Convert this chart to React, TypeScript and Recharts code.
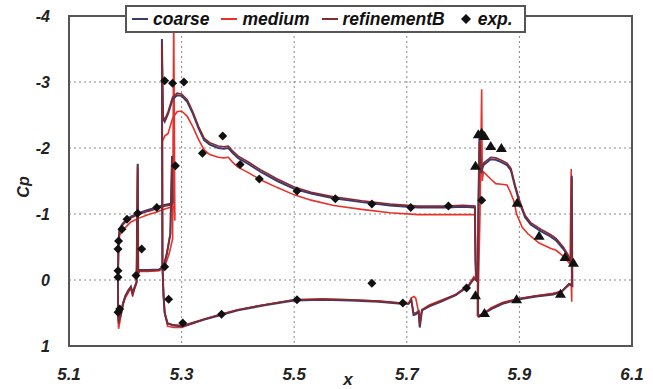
import {
  ComposedChart,
  Line,
  Scatter,
  XAxis,
  YAxis,
  CartesianGrid,
  ReferenceArea,
  Label,
} from 'recharts'

// [x, Cp] pairs
const coarseSlat = [
  [5.283, -1.16], [5.265, -1.13], [5.256, -1.1], [5.24, -1.06], [5.222, -1.01], [5.21, -0.96],
  [5.203, -0.92], [5.195, -0.85], [5.19, -0.78], [5.188, -0.6], [5.187, 0.0], [5.187, 0.45],
  [5.188, 0.62], [5.191, 0.55], [5.196, 0.35], [5.2, 0.24], [5.205, 0.16], [5.21, 0.1],
  [5.213, 0.2], [5.216, 0.12], [5.22, 0.03], [5.222, -1.76], [5.223, -0.1], [5.225, -0.15],
  [5.24, -0.15], [5.26, -0.16], [5.268, -0.2], [5.274, -0.4], [5.28, -0.7], [5.283, -1.88],
  [5.284, -1.16],
]
const coarseMain = [
  [5.266, -0.2], [5.265, -3.65], [5.267, -2.45], [5.27, -2.4], [5.276, -2.52], [5.284, -2.74],
  [5.292, -2.8], [5.3, -2.79], [5.31, -2.7], [5.32, -2.52], [5.33, -2.3], [5.34, -2.12],
  [5.35, -2.05], [5.365, -2.0], [5.375, -1.99], [5.383, -2.0], [5.39, -1.93], [5.4, -1.85],
  [5.42, -1.75], [5.44, -1.64], [5.47, -1.5], [5.5, -1.38], [5.53, -1.31], [5.57, -1.24],
  [5.62, -1.18], [5.67, -1.13], [5.72, -1.1], [5.77, -1.1], [5.8, -1.11], [5.821, -1.1],
  [5.822, -0.3], [5.823, 0.0], [5.819, -0.02], [5.81, 0.09], [5.787, 0.23], [5.76, 0.33],
  [5.74, 0.4], [5.727, 0.46], [5.723, 0.72], [5.721, 0.48], [5.716, 0.52], [5.712, 0.53],
  [5.708, 0.3], [5.703, 0.36], [5.69, 0.36], [5.65, 0.33], [5.6, 0.31], [5.55, 0.3],
  [5.5, 0.31], [5.45, 0.38], [5.4, 0.46], [5.37, 0.53], [5.34, 0.6], [5.31, 0.68],
  [5.3, 0.7], [5.285, 0.69], [5.275, 0.66], [5.27, 0.5], [5.268, 0.25], [5.266, -0.2],
]
const coarseFlap = [
  [5.826, 0.55], [5.826, 0.2], [5.827, -1.0], [5.829, -2.15], [5.832, -1.62], [5.836, -1.74],
  [5.849, -1.83], [5.858, -1.82], [5.867, -1.79], [5.878, -1.74], [5.885, -1.66], [5.892, -1.42],
  [5.9, -1.18], [5.91, -0.95], [5.92, -0.84], [5.938, -0.74], [5.955, -0.66], [5.965, -0.6],
  [5.978, -0.47], [5.986, -0.37], [5.992, -0.25], [5.993, -1.58], [5.994, 0.09], [5.988, 0.06],
  [5.975, 0.18], [5.96, 0.22], [5.93, 0.25], [5.9, 0.29], [5.87, 0.36], [5.85, 0.44],
  [5.838, 0.5], [5.826, 0.55],
]

const mediumSlat = [
  [5.287, -1.12], [5.265, -1.06], [5.256, -1.03], [5.24, -0.99], [5.222, -0.93], [5.21, -0.88],
  [5.203, -0.82], [5.195, -0.75], [5.19, -0.68], [5.188, -0.5], [5.187, 0.0], [5.187, 0.5],
  [5.188, 0.74], [5.191, 0.6], [5.196, 0.38], [5.2, 0.27], [5.205, 0.2], [5.21, 0.12],
  [5.213, 0.25], [5.216, 0.15], [5.22, 0.05], [5.222, -1.7], [5.223, -0.1], [5.225, -0.13],
  [5.24, -0.13], [5.26, -0.14], [5.27, -0.2], [5.278, -0.4], [5.284, -0.62], [5.286, -4.0],
  [5.288, -0.9], [5.287, -1.12],
]
const mediumMain = [
  [5.266, -0.2], [5.266, -2.1], [5.27, -2.18], [5.276, -2.22], [5.284, -2.45], [5.292, -2.55],
  [5.3, -2.56], [5.31, -2.48], [5.32, -2.32], [5.33, -2.13], [5.34, -1.97], [5.35, -1.9],
  [5.365, -1.86], [5.375, -1.85], [5.383, -1.86], [5.39, -1.79], [5.4, -1.71], [5.42, -1.62],
  [5.44, -1.52], [5.47, -1.4], [5.5, -1.29], [5.53, -1.21], [5.57, -1.13], [5.62, -1.07],
  [5.67, -1.02], [5.72, -0.99], [5.77, -0.99], [5.8, -0.99], [5.821, -0.99], [5.823, 0.0],
  [5.819, -0.05], [5.81, 0.07], [5.787, 0.22], [5.76, 0.31], [5.74, 0.38], [5.727, 0.45],
  [5.724, 0.6], [5.72, 0.45], [5.716, 0.28], [5.713, 0.25], [5.708, 0.27], [5.703, 0.36],
  [5.69, 0.35], [5.65, 0.32], [5.6, 0.3], [5.55, 0.29], [5.5, 0.3], [5.45, 0.37],
  [5.4, 0.45], [5.37, 0.52], [5.34, 0.6], [5.31, 0.69], [5.3, 0.72], [5.285, 0.72],
  [5.275, 0.7], [5.27, 0.5], [5.268, 0.25], [5.266, -0.2],
]
const mediumFlap = [
  [5.827, 0.57], [5.827, 0.2], [5.83, -1.0], [5.833, -2.89], [5.834, -1.5], [5.836, -1.64],
  [5.849, -1.53], [5.858, -1.46], [5.868, -1.45], [5.878, -1.44], [5.884, -1.33], [5.89, -1.2],
  [5.895, -1.0], [5.905, -0.8], [5.915, -0.7], [5.935, -0.56], [5.955, -0.48], [5.965, -0.45],
  [5.978, -0.36], [5.99, -0.24], [5.992, -1.68], [5.993, 0.33], [5.992, 0.05], [5.985, 0.1],
  [5.975, 0.17], [5.96, 0.2], [5.93, 0.24], [5.9, 0.28], [5.87, 0.34], [5.85, 0.42],
  [5.838, 0.5], [5.827, 0.57],
]

const refinementBSlat = [
  [5.283, -1.14], [5.265, -1.11], [5.256, -1.08], [5.24, -1.04], [5.222, -0.99], [5.21, -0.94],
  [5.203, -0.9], [5.195, -0.83], [5.19, -0.76], [5.188, -0.58], [5.187, 0.0], [5.187, 0.47],
  [5.188, 0.66], [5.191, 0.57], [5.196, 0.36], [5.2, 0.25], [5.205, 0.17], [5.21, 0.11],
  [5.213, 0.21], [5.216, 0.13], [5.22, 0.04], [5.222, -1.74], [5.223, -0.1], [5.225, -0.14],
  [5.24, -0.14], [5.26, -0.15], [5.268, -0.2], [5.274, -0.42], [5.28, -0.7], [5.283, -1.85],
  [5.284, -1.14],
]
const refinementBMain = [
  [5.266, -0.2], [5.265, -3.6], [5.267, -2.48], [5.27, -2.43], [5.276, -2.55], [5.284, -2.77],
  [5.292, -2.83], [5.3, -2.82], [5.31, -2.73], [5.32, -2.55], [5.33, -2.33], [5.34, -2.15],
  [5.35, -2.08], [5.365, -2.03], [5.375, -2.02], [5.383, -2.03], [5.39, -1.96], [5.4, -1.88],
  [5.42, -1.78], [5.44, -1.67], [5.47, -1.53], [5.5, -1.41], [5.53, -1.33], [5.57, -1.26],
  [5.62, -1.2], [5.67, -1.15], [5.72, -1.12], [5.77, -1.12], [5.8, -1.13], [5.821, -1.12],
  [5.822, -0.3], [5.823, 0.0], [5.819, -0.02], [5.81, 0.08], [5.787, 0.22], [5.76, 0.32],
  [5.74, 0.39], [5.727, 0.45], [5.723, 0.68], [5.721, 0.47], [5.716, 0.5], [5.712, 0.5],
  [5.708, 0.3], [5.703, 0.36], [5.69, 0.35], [5.65, 0.32], [5.6, 0.3], [5.55, 0.29],
  [5.5, 0.3], [5.45, 0.37], [5.4, 0.45], [5.37, 0.52], [5.34, 0.59], [5.31, 0.67],
  [5.3, 0.69], [5.285, 0.68], [5.275, 0.65], [5.27, 0.5], [5.268, 0.25], [5.266, -0.2],
]
const refinementBFlap = [
  [5.826, 0.55], [5.826, 0.2], [5.827, -1.0], [5.829, -2.1], [5.832, -1.65], [5.836, -1.77],
  [5.849, -1.86], [5.858, -1.85], [5.867, -1.82], [5.878, -1.77], [5.885, -1.69], [5.892, -1.45],
  [5.9, -1.21], [5.91, -0.98], [5.92, -0.87], [5.938, -0.77], [5.955, -0.69], [5.965, -0.63],
  [5.978, -0.5], [5.986, -0.39], [5.992, -0.27], [5.993, -1.55], [5.994, 0.08], [5.988, 0.06],
  [5.975, 0.17], [5.96, 0.21], [5.93, 0.24], [5.9, 0.28], [5.87, 0.35], [5.85, 0.43],
  [5.838, 0.5], [5.826, 0.55],
]

const expDiamonds = [
  [5.187, 0.49], [5.19, 0.44], [5.187, -0.04], [5.187, -0.14], [5.187, -0.47], [5.188, -0.59],
  [5.194, -0.77], [5.203, -0.92], [5.222, -1.01], [5.256, -1.1], [5.229, -0.47], [5.219, -0.07],
  [5.27, -0.2], [5.277, 0.29], [5.302, 0.65], [5.371, 0.52], [5.505, 0.3], [5.27, -3.02],
  [5.284, -2.98], [5.304, -3.0], [5.289, -1.73], [5.373, -2.18], [5.337, -1.92], [5.404, -1.75],
  [5.438, -1.53], [5.505, -1.35], [5.573, -1.23], [5.638, -1.15], [5.707, -1.1], [5.774, -1.12],
  [5.833, -1.21], [5.638, 0.05], [5.693, 0.35], [5.806, 0.12],
]
const expTriangles = [
  [5.827, -2.21], [5.833, -2.23], [5.838, -2.18], [5.849, -2.03], [5.868, -2.0], [5.822, -1.73],
  [5.896, -1.17], [5.935, -0.67], [5.981, -0.35], [5.996, -0.26], [5.822, 0.23], [5.838, 0.5],
  [5.895, 0.29], [5.973, 0.21],
]

const X_TICKS = [5.1, 5.3, 5.5, 5.7, 5.9, 6.1]
const Y_TICKS = [-4, -3, -2, -1, 0, 1]

const COLORS = {
  coarse: '#3a3a70',
  medium: '#e8312b',
  refinementB: '#862a30',
}

const FONT = 'Arial, "Liberation Sans", sans-serif'

const toPts = (arr: number[][]) => arr.map(([x, y]) => ({ x, y }))

const Diamond = (props: any) => {
  const { cx, cy } = props
  if (cx == null || cy == null) return null
  const r = 4.5
  return <path d={`M${cx},${cy - r}L${cx + r},${cy}L${cx},${cy + r}L${cx - r},${cy}Z`} fill="#111" />
}

const Triangle = (props: any) => {
  const { cx, cy } = props
  if (cx == null || cy == null) return null
  return <path d={`M${cx},${cy - 5}L${cx + 5.5},${cy + 4}L${cx - 5.5},${cy + 4}Z`} fill="#111" />
}

const lines = [
  { key: 'mediumSlat', data: mediumSlat, color: COLORS.medium, w: 1.6 },
  { key: 'mediumMain', data: mediumMain, color: COLORS.medium, w: 1.6 },
  { key: 'mediumFlap', data: mediumFlap, color: COLORS.medium, w: 1.6 },
  { key: 'coarseSlat', data: coarseSlat, color: COLORS.coarse, w: 2 },
  { key: 'coarseMain', data: coarseMain, color: COLORS.coarse, w: 2 },
  { key: 'coarseFlap', data: coarseFlap, color: COLORS.coarse, w: 2 },
  { key: 'refSlat', data: refinementBSlat, color: COLORS.refinementB, w: 1.6 },
  { key: 'refMain', data: refinementBMain, color: COLORS.refinementB, w: 1.6 },
  { key: 'refFlap', data: refinementBFlap, color: COLORS.refinementB, w: 1.6 },
]

function LegendBox() {
  const item = (color: string, text: string) => (
    <span style={{ display: 'inline-flex', alignItems: 'center', marginRight: 12 }}>
      <span style={{ display: 'inline-block', width: 16, height: 2.5, background: color, marginRight: 5 }} />
      {text}
    </span>
  )
  return (
    <div
      style={{
        position: 'absolute',
        left: 125,
        top: 5,
        width: 392,
        height: 24,
        background: '#fff',
        border: '2px solid #555',
        display: 'flex',
        alignItems: 'center',
        paddingLeft: 5,
        fontFamily: FONT,
        fontWeight: 'bold',
        fontStyle: 'italic',
        fontSize: 17.5,
        color: '#111',
        whiteSpace: 'nowrap',
        boxSizing: 'content-box',
      }}
    >
      {item(COLORS.coarse, 'coarse')}
      {item(COLORS.medium, 'medium')}
      {item(COLORS.refinementB, 'refinementB')}
      <span style={{ display: 'inline-flex', alignItems: 'center' }}>
        <svg width={10} height={10} style={{ marginRight: 7, marginLeft: 4 }}>
          <path d="M5,0L10,5L5,10L0,5Z" fill="#111" />
        </svg>
        exp.
      </span>
    </div>
  )
}

export default function App() {
  const tickStyle = { fill: '#222', fontFamily: FONT, fontWeight: 'bold', fontStyle: 'italic' }
  return (
    <div style={{ position: 'absolute', left: 0, top: 0, width: 653, height: 389, background: '#fff' }}>
      <ComposedChart width={653} height={389} margin={{ top: 16, right: 21, bottom: 0, left: 19 }}>
        <CartesianGrid stroke="#888" strokeDasharray="2 3" />
        <XAxis
          type="number"
          dataKey="x"
          domain={[5.1, 6.1]}
          ticks={X_TICKS}
          allowDataOverflow
          height={43}
          tickLine={false}
          axisLine={false}
          tickSize={0}
          tickMargin={22}
          tickFormatter={(v: number) => v.toFixed(1)}
          tick={{ ...tickStyle, fontSize: 17 }}
        >
          <Label
            content={() => (
              <text x={348} y={385} textAnchor="middle" fontFamily={FONT} fontWeight="bold" fontStyle="italic" fontSize={17} fill="#222">
                x
              </text>
            )}
          />
        </XAxis>
        <YAxis
          type="number"
          dataKey="y"
          domain={[-4, 1]}
          ticks={Y_TICKS}
          reversed
          allowDataOverflow
          width={50}
          tickLine={false}
          axisLine={false}
          tickSize={0}
          tickMargin={19}
          tick={{ ...tickStyle, fontSize: 16 }}
        >
          <Label
            content={() => (
              <text
                x={29}
                y={187}
                textAnchor="middle"
                transform="rotate(-90 29 187)"
                fontFamily={FONT}
                fontWeight="bold"
                fontStyle="italic"
                fontSize={16}
                fill="#222"
              >
                Cp
              </text>
            )}
          />
        </YAxis>
        <ReferenceArea x1={5.1} x2={6.1} y1={-4} y2={1} fill="none" stroke="#555" strokeWidth={2} ifOverflow="visible" />
        {lines.map((l) => (
          <Line
            key={l.key}
            data={toPts(l.data)}
            dataKey="y"
            type="linear"
            stroke={l.color}
            strokeWidth={l.w}
            dot={false}
            activeDot={false}
            isAnimationActive={false}
          />
        ))}
        <Scatter data={toPts(expDiamonds)} dataKey="y" shape={Diamond} isAnimationActive={false} />
        <Scatter data={toPts(expTriangles)} dataKey="y" shape={Triangle} isAnimationActive={false} />
      </ComposedChart>
      <LegendBox />
    </div>
  )
}
